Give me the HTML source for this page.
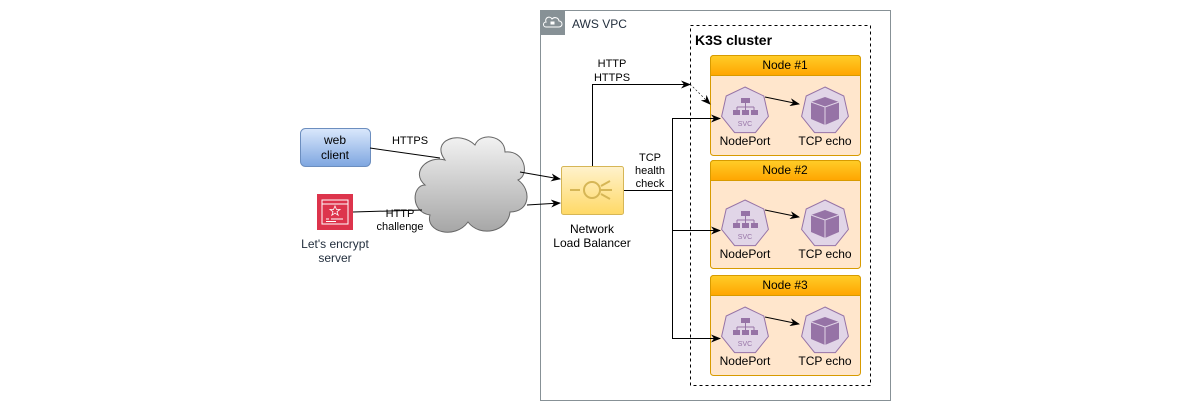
<!DOCTYPE html>
<html><head><meta charset="utf-8"><style>
body{margin:0;background:#fff}
svg{display:block;font-family:"Liberation Sans",sans-serif}
</style></head><body>
<svg width="1200" height="410" viewBox="0 0 1200 410" xmlns="http://www.w3.org/2000/svg">
<defs>
<marker id="a" markerWidth="10" markerHeight="8" refX="9" refY="4" orient="auto" markerUnits="userSpaceOnUse"><path d="M0,0 L10,4 L0,8 L3,4 z" fill="#000"/></marker>
<linearGradient id="blue" x1="0" y1="0" x2="0" y2="1"><stop offset="0" stop-color="#dae8fc"/><stop offset="1" stop-color="#7ea6e0"/></linearGradient>
<linearGradient id="yel" x1="0" y1="0" x2="0" y2="1"><stop offset="0" stop-color="#fff2cc"/><stop offset="1" stop-color="#ffd966"/></linearGradient>
<linearGradient id="hdr" x1="0" y1="0" x2="0" y2="1"><stop offset="0" stop-color="#ffcd28"/><stop offset="1" stop-color="#ffa500"/></linearGradient>
<linearGradient id="cl" x1="0" y1="0" x2="0" y2="1"><stop offset="0" stop-color="#f2f2f2"/><stop offset="1" stop-color="#a6a6a6"/></linearGradient>
<g id="content">
 <g transform="translate(35,56)"><polygon points="0,-24 18.8,-15 23.4,5.4 10.4,21.6 -10.4,21.6 -23.4,5.4 -18.8,-15" fill="#e1d5e7" stroke="#9673a6"/>
  <rect x="-4" y="-13" width="9" height="5" fill="#9673a6"/><path d="M0.5,-8 V-4 M-8,-4 H9 M-8,-4 V-1 M0.5,-4 V-1 M9,-4 V-1" stroke="#9673a6" fill="none"/>
  <rect x="-12" y="-1" width="7" height="5" fill="#9673a6"/><rect x="-3" y="-1" width="7" height="5" fill="#9673a6"/><rect x="6" y="-1" width="7" height="5" fill="#9673a6"/>
  <text x="0" y="15" font-size="7" fill="#9673a6" text-anchor="middle">SVC</text></g>
 <g transform="translate(115,56)"><polygon points="0,-24 18.8,-15 23.4,5.4 10.4,21.6 -10.4,21.6 -23.4,5.4 -18.8,-15" fill="#e1d5e7" stroke="#9673a6"/>
  <path d="M0,-14 L14,-9 L14,8 L0,14 L-14,8 L-14,-9z" fill="#9673a6"/><path d="M-14,-9 L0,-4 L14,-9 M0,-4 V14" stroke="#e1d5e7" fill="none"/></g>
 <line x1="55" y1="42" x2="89" y2="49" stroke="#000" marker-end="url(#a)"/>
 <text x="35" y="90" font-size="12" text-anchor="middle">NodePort</text>
 <text x="115" y="90" font-size="12" text-anchor="middle">TCP echo</text>
</g>
</defs>
<!-- VPC -->
<rect x="540.5" y="10.5" width="350" height="390" fill="none" stroke="#879196"/>
<rect x="540" y="10" width="25" height="25" fill="#879196"/>
<path d="M546,27 h13 a3,3 0 0 0 0,-6 a4,4 0 0 0 -7,-2 a3,3 0 0 0 -6,3 a2.5,2.5 0 0 0 0,5z" fill="none" stroke="#fff"/>
<rect x="550.5" y="21.5" width="4" height="3" fill="#fff"/>
<text x="572" y="28" font-size="12" fill="#232f3e">AWS VPC</text>
<!-- K3S -->
<rect x="690.5" y="25.5" width="180" height="360" fill="none" stroke="#000" stroke-dasharray="3,3"/>
<text x="695" y="45" font-size="14" font-weight="bold">K3S cluster</text>
<!-- node frames -->
<rect x="710.5" y="55.5" width="150" height="100" rx="3" fill="#ffe6cc" stroke="#d79b00"/>
<path d="M713.5,55.5 H857.5 a3,3 0 0 1 3,3 V75.5 H710.5 V58.5 a3,3 0 0 1 3,-3z" fill="url(#hdr)" stroke="#d79b00"/>
<text x="785" y="69" font-size="12" text-anchor="middle">Node #1</text>
<rect x="710.5" y="160.5" width="150" height="108" rx="3" fill="#ffe6cc" stroke="#d79b00"/>
<path d="M713.5,160.5 H857.5 a3,3 0 0 1 3,3 V180.5 H710.5 V163.5 a3,3 0 0 1 3,-3z" fill="url(#hdr)" stroke="#d79b00"/>
<text x="785" y="174" font-size="12" text-anchor="middle">Node #2</text>
<rect x="710.5" y="275.5" width="150" height="100" rx="3" fill="#ffe6cc" stroke="#d79b00"/>
<path d="M713.5,275.5 H857.5 a3,3 0 0 1 3,3 V295.5 H710.5 V278.5 a3,3 0 0 1 3,-3z" fill="url(#hdr)" stroke="#d79b00"/>
<text x="785" y="289" font-size="12" text-anchor="middle">Node #3</text>
<use href="#content" x="710" y="55"/>
<use href="#content" x="710" y="168"/>
<use href="#content" x="710" y="275"/>
<!-- web client -->
<rect x="300.5" y="128.5" width="70" height="38" rx="5" fill="url(#blue)" stroke="#6c8ebf"/>
<text x="335" y="144" font-size="12" text-anchor="middle">web</text>
<text x="335" y="159" font-size="12" text-anchor="middle">client</text>
<!-- LE -->
<rect x="317" y="194" width="36" height="36" fill="#dd344c"/>
<rect x="322" y="200" width="26" height="24" fill="none" stroke="#fff"/>
<line x1="322" y1="204" x2="348" y2="204" stroke="#fff"/>
<path d="M335,206 l1.5,3.5 h3.5 l-3,2.2 1.2,3.6 -3.2,-2.2 -3.2,2.2 1.2,-3.6 -3,-2.2 h3.5z" fill="none" stroke="#fff" stroke-width="0.8"/>
<path d="M326,219 h3 M331,219 h12 M326,221.5 h10" stroke="#fff"/>
<text x="335" y="248" font-size="12" fill="#232f3e" text-anchor="middle">Let's encrypt</text>
<text x="335" y="262" font-size="12" fill="#232f3e" text-anchor="middle">server</text>
<!-- cloud -->
<path d="M445,160 C430,140 460,130 475,145 C480,132 505,135 505,152 C525,150 530,175 518,180 C532,190 530,212 510,212 C508,232 480,238 468,222 C455,240 425,232 430,215 C410,212 412,185 425,185 C410,172 428,155 445,160z" fill="url(#cl)" stroke="#666"/>
<!-- edges -->
<line x1="370" y1="148" x2="440" y2="158" stroke="#000"/>
<text x="410" y="144" font-size="11" text-anchor="middle">HTTPS</text>
<line x1="353" y1="212" x2="422" y2="210" stroke="#000"/>
<text x="400" y="217" font-size="11" text-anchor="middle">HTTP</text>
<text x="400" y="230" font-size="11" text-anchor="middle">challenge</text>
<line x1="520" y1="172" x2="560" y2="179" stroke="#000" marker-end="url(#a)"/>
<line x1="527" y1="205" x2="560" y2="203" stroke="#000" marker-end="url(#a)"/>
<!-- NLB -->
<rect x="561.5" y="166.5" width="62" height="48" rx="2" fill="url(#yel)" stroke="#d6b656"/>
<circle cx="592" cy="190" r="8" fill="none" stroke="#d6b656" stroke-width="2"/>
<path d="M570,190 h10 M600,190 h12 M601,186 l9,-5 M601,194 l9,5" stroke="#d6b656" stroke-width="2"/>
<text x="592" y="233" font-size="12" text-anchor="middle">Network</text>
<text x="592" y="247" font-size="12" text-anchor="middle">Load Balancer</text>
<polyline points="592.5,166 592.5,84.5 690,84.5" fill="none" stroke="#000" marker-end="url(#a)"/>
<text x="612" y="67" font-size="11" text-anchor="middle">HTTP</text>
<text x="612" y="81" font-size="11" text-anchor="middle">HTTPS</text>
<line x1="690" y1="84" x2="710" y2="104" stroke="#000" stroke-width="0.6" stroke-dasharray="2,2" marker-end="url(#a)"/>
<polyline points="624,190.5 672.5,190.5" fill="none" stroke="#000"/>
<text x="650" y="161" font-size="11" text-anchor="middle">TCP</text>
<text x="650" y="174" font-size="11" text-anchor="middle">health</text>
<text x="650" y="187" font-size="11" text-anchor="middle">check</text>
<line x1="672.5" y1="118" x2="672.5" y2="338" stroke="#000"/>
<line x1="672" y1="118.5" x2="720" y2="118.5" stroke="#000" marker-end="url(#a)"/>
<line x1="672" y1="230.5" x2="720" y2="230.5" stroke="#000" marker-end="url(#a)"/>
<line x1="672" y1="338.5" x2="720" y2="338.5" stroke="#000" marker-end="url(#a)"/>
</svg>
</body></html>
